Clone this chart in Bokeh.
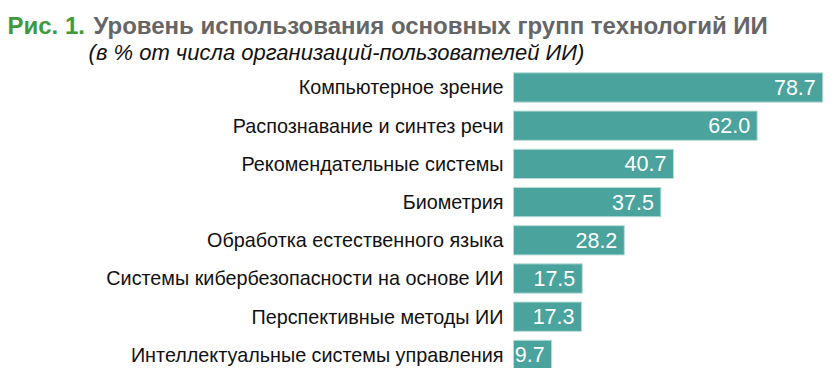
from bokeh.plotting import figure
from bokeh.models import Range1d, Label, ColumnDataSource
from bokeh.core.properties import value
from bokeh.embed import file_html
from bokeh.resources import INLINE

categories = [
    "Компьютерное зрение",
    "Распознавание и синтез речи",
    "Рекомендательные системы",
    "Биометрия",
    "Обработка естественного языка",
    "Системы кибербезопасности на основе ИИ",
    "Перспективные методы ИИ",
    "Интеллектуальные системы управления",
]
values = [78.7, 62.0, 40.7, 37.5, 28.2, 17.5, 17.3, 9.7]
title_prefix = "Рис. 1."
title_main = "Уровень использования основных групп технологий ИИ"
subtitle = "(в % от числа организаций-пользователей ИИ)"

n = len(categories)
ypos = [n - 1 - i for i in range(n)]
labels = ["%.1f" % v for v in values]
zeros = [0] * n

W, H = 832, 368
p = figure(width=W, height=H, output_backend="svg", toolbar_location=None,
           x_range=Range1d(-130.53, 81.17), y_range=Range1d(-0.356, n - 1 + 2.277),
           x_axis_location=None, y_axis_location=None,
           min_border=0)
p.outline_line_color = None
p.grid.visible = False
p.background_fill_color = "white"
p.border_fill_color = "white"

src = ColumnDataSource(dict(y=ypos, v=values, lab=labels, cat=categories, z=zeros))
p.hbar(y="y", left=0, right="v", height=0.767, source=src,
       fill_color="#4aa39c", line_color="#b9ddd9", line_width=1)
p.text(x="v", y="y", text="lab", source=src, x_offset=-7,
       text_align="right", text_baseline="middle", text_color="white",
       text_font=value("Liberation Sans"), text_font_size="21.5px")
p.text(x="z", y="y", text="cat", source=src, x_offset=-10,
       text_align="right", text_baseline="middle", text_color="#111111",
       text_font=value("Liberation Sans"), text_font_size="19.8px")

p.add_layout(Label(x=7, y=H - 25, x_units="screen", y_units="screen",
                   text=title_prefix, text_font="Liberation Sans",
                   text_font_size="24px", text_font_style="bold",
                   text_color="#3f9a3c", text_baseline="alphabetic"))
p.add_layout(Label(x=93, y=H - 25, x_units="screen", y_units="screen",
                   text=title_main, text_font="Liberation Sans",
                   text_font_size="24px", text_font_style="bold",
                   text_color="#666666", text_baseline="alphabetic"))
p.add_layout(Label(x=336, y=H - 52, x_units="screen", y_units="screen",
                   text=subtitle, text_font="Liberation Sans",
                   text_font_size="22px", text_font_style="italic",
                   text_color="#111111", text_align="center",
                   text_baseline="alphabetic"))

open("out.html", "w").write(file_html(p, INLINE))
